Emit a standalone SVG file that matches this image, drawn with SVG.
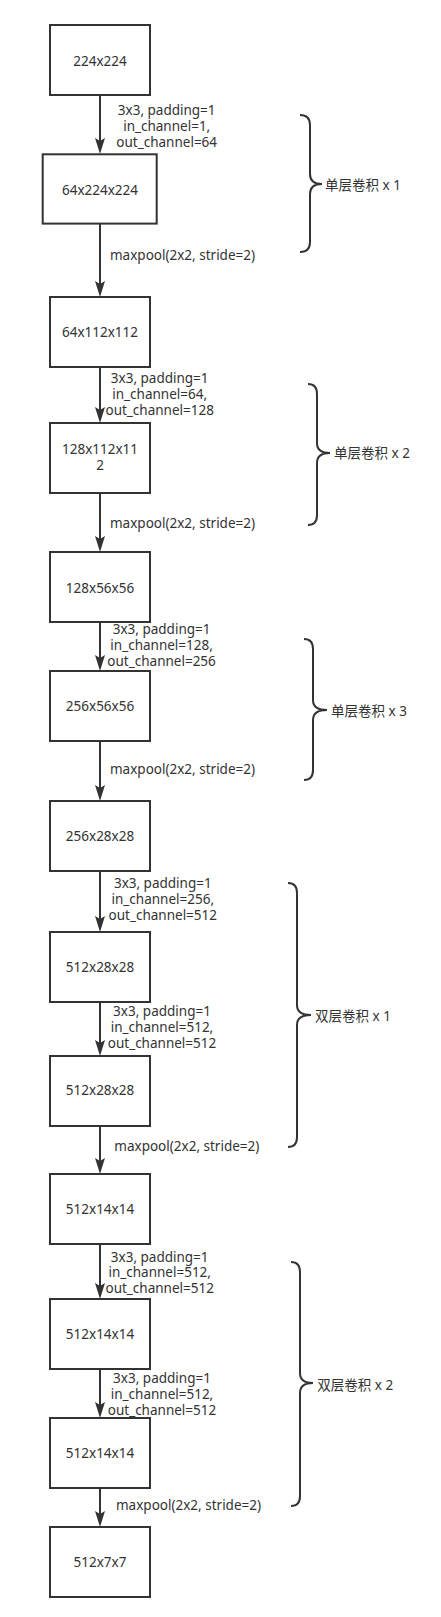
<svg xmlns="http://www.w3.org/2000/svg" width="441" height="1617" viewBox="0 0 441 1617">
<style>
  .box{fill:#fff;stroke:#333;stroke-width:2}
  .t{font-family:"Noto Sans","Noto Sans CJK SC",sans-serif;font-size:13.5px;fill:#333}
  .c{text-anchor:middle}
  .e{stroke:#333;stroke-width:2;fill:none}
  .br{stroke:#333;stroke-width:2;fill:none}
</style>
<defs>
  <marker id="ah" markerUnits="userSpaceOnUse" markerWidth="16" markerHeight="10" viewBox="0 0 16 10" refX="6" refY="5" orient="auto">
    <path d="M0,0 L16,5 L0,10 L3,5 Z" fill="#333"/>
  </marker>
</defs>
<rect width="441" height="1617" fill="#fff"/>
<g id="connectors">
  <line class="e" x1="100" y1="95" x2="100" y2="144" marker-end="url(#ah)"/>
  <line class="e" x1="100" y1="224" x2="100" y2="287" marker-end="url(#ah)"/>
  <line class="e" x1="100" y1="367" x2="100" y2="413" marker-end="url(#ah)"/>
  <line class="e" x1="100" y1="493" x2="100" y2="542" marker-end="url(#ah)"/>
  <line class="e" x1="100" y1="622" x2="100" y2="661" marker-end="url(#ah)"/>
  <line class="e" x1="100" y1="741" x2="100" y2="791" marker-end="url(#ah)"/>
  <line class="e" x1="100" y1="871" x2="100" y2="922" marker-end="url(#ah)"/>
  <line class="e" x1="100" y1="1002" x2="100" y2="1046" marker-end="url(#ah)"/>
  <line class="e" x1="100" y1="1126" x2="100" y2="1164" marker-end="url(#ah)"/>
  <line class="e" x1="100" y1="1244" x2="100" y2="1289" marker-end="url(#ah)"/>
  <line class="e" x1="100" y1="1369" x2="100" y2="1408" marker-end="url(#ah)"/>
  <line class="e" x1="100" y1="1488" x2="100" y2="1517" marker-end="url(#ah)"/>
  <g id="edge-labels" class="t">
    <text class="c" x="166.7" y="115">3x3, padding=1</text>
    <text class="c" x="166.7" y="130.7">in_channel=1,</text>
    <text class="c" x="166.7" y="146.5">out_channel=64</text>
    <text x="110" y="260">maxpool(2x2, stride=2)</text>
    <text class="c" x="159.7" y="383.3">3x3, padding=1</text>
    <text class="c" x="159.7" y="399.3">in_channel=64,</text>
    <text class="c" x="159.7" y="415.3">out_channel=128</text>
    <text x="110" y="527.7">maxpool(2x2, stride=2)</text>
    <text class="c" x="161.6" y="634.3">3x3, padding=1</text>
    <text class="c" x="161.6" y="650">in_channel=128,</text>
    <text class="c" x="161.6" y="665.7">out_channel=256</text>
    <text x="110" y="774.3">maxpool(2x2, stride=2)</text>
    <text class="c" x="162.8" y="888.3">3x3, padding=1</text>
    <text class="c" x="162.8" y="904">in_channel=256,</text>
    <text class="c" x="162.8" y="920">out_channel=512</text>
    <text class="c" x="162" y="1016">3x3, padding=1</text>
    <text class="c" x="162" y="1031.7">in_channel=512,</text>
    <text class="c" x="162" y="1047.7">out_channel=512</text>
    <text x="114.3" y="1151">maxpool(2x2, stride=2)</text>
    <text class="c" x="159.7" y="1261.7">3x3, padding=1</text>
    <text class="c" x="159.7" y="1277.3">in_channel=512,</text>
    <text class="c" x="159.7" y="1293.3">out_channel=512</text>
    <text class="c" x="162" y="1383.3">3x3, padding=1</text>
    <text class="c" x="162" y="1399.3">in_channel=512,</text>
    <text class="c" x="162" y="1415">out_channel=512</text>
    <text x="116" y="1510">maxpool(2x2, stride=2)</text>
  </g>
</g>
<g id="n1"><rect class="box" x="50" y="25" width="100" height="70"/><text class="t c" x="100" y="66">224x224</text></g>
<g id="n2"><rect class="box" x="42.7" y="154.3" width="114" height="69.3"/><text class="t c" x="100" y="195">64x224x224</text></g>
<g id="n3"><rect class="box" x="50" y="297" width="100" height="70"/><text class="t c" x="100" y="336.7">64x112x112</text></g>
<g id="n4"><rect class="box" x="50" y="423" width="100" height="70"/><text class="t c" x="100" y="454.3">128x112x11</text><text class="t c" x="100" y="470.3">2</text></g>
<g id="n5"><rect class="box" x="50" y="552" width="100" height="70"/><text class="t c" x="100" y="592.7">128x56x56</text></g>
<g id="n6"><rect class="box" x="50" y="671" width="100" height="70"/><text class="t c" x="100" y="710.7">256x56x56</text></g>
<g id="n7"><rect class="box" x="50" y="801" width="100" height="70"/><text class="t c" x="100" y="840.7">256x28x28</text></g>
<g id="n8"><rect class="box" x="50" y="932" width="100" height="70"/><text class="t c" x="100" y="971.7">512x28x28</text></g>
<g id="n9"><rect class="box" x="50" y="1056" width="100" height="70"/><text class="t c" x="100" y="1095">512x28x28</text></g>
<g id="n10"><rect class="box" x="50" y="1174" width="100" height="70"/><text class="t c" x="100" y="1214.3">512x14x14</text></g>
<g id="n11"><rect class="box" x="50" y="1299" width="100" height="70"/><text class="t c" x="100" y="1339.3">512x14x14</text></g>
<g id="n12"><rect class="box" x="50" y="1418" width="100" height="70"/><text class="t c" x="100" y="1458.3">512x14x14</text></g>
<g id="n13"><rect class="box" x="50" y="1527" width="100" height="70"/><text class="t c" x="100" y="1566.7">512x7x7</text></g>
<g id="brace1"><path class="br" d="M300,115 Q310,115 310,125 L310,174 Q310,184 322,184 Q310,184 310,194 L310,242 Q310,252 300,252"/><text class="t" x="325" y="190">单层卷积 x 1</text></g>
<g id="brace2"><path class="br" d="M308,384 Q317,384 317,394 L317,443 Q317,453 330,453 Q317,453 317,463 L317,515 Q317,525 308,525"/><text class="t" x="334" y="458">单层卷积 x 2</text></g>
<g id="brace3"><path class="br" d="M304,639 Q313,639 313,649 L313,700 Q313,710 327,710 Q313,710 313,720 L313,770 Q313,780 304,780"/><text class="t" x="331" y="715.5">单层卷积 x 3</text></g>
<g id="brace4"><path class="br" d="M288,883 Q297,883 297,893 L297,1005 Q297,1015 311,1015 Q297,1015 297,1025 L297,1137 Q297,1147 288,1147"/><text class="t" x="315" y="1020.5">双层卷积 x 1</text></g>
<g id="brace5"><path class="br" d="M291,1262 Q300,1262 300,1272 L300,1373 Q300,1383 313,1383 Q300,1383 300,1393 L300,1496 Q300,1506 291,1506"/><text class="t" x="317.3" y="1389.5">双层卷积 x 2</text></g>
</svg>
